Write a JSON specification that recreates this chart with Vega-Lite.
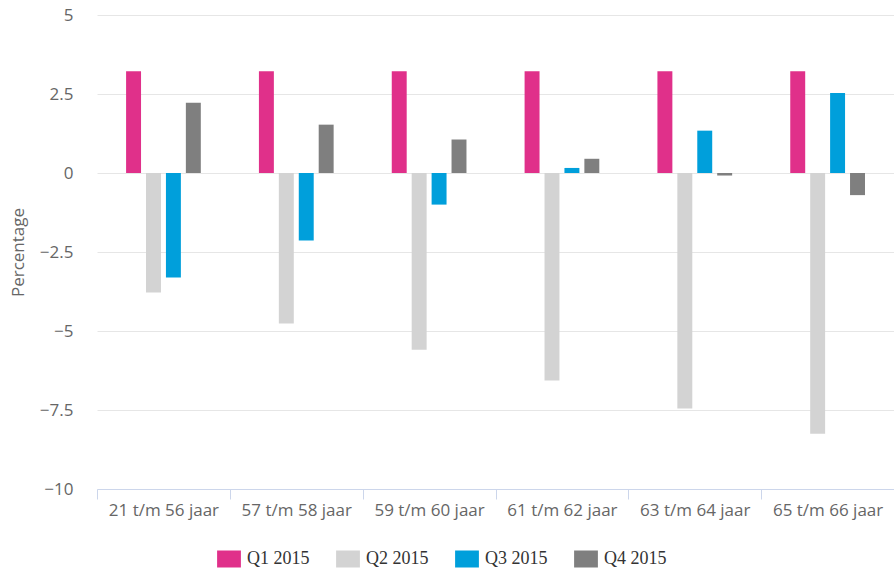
{
  "$schema": "https://vega.github.io/schema/vega-lite/v6.json",
  "width": 797,
  "height": 474,
  "autosize": {"type": "none"},
  "padding": {"left": 97, "top": 15, "right": 0, "bottom": 83},
  "background": "white",
  "config": {"view": {"stroke": null}},
  "data": {
    "values": [
      {"groep": "21 t/m 56 jaar", "kwartaal": "Q1 2015", "pct": 3.22},
      {"groep": "21 t/m 56 jaar", "kwartaal": "Q2 2015", "pct": -3.78},
      {"groep": "21 t/m 56 jaar", "kwartaal": "Q3 2015", "pct": -3.31},
      {"groep": "21 t/m 56 jaar", "kwartaal": "Q4 2015", "pct": 2.22},
      {"groep": "57 t/m 58 jaar", "kwartaal": "Q1 2015", "pct": 3.22},
      {"groep": "57 t/m 58 jaar", "kwartaal": "Q2 2015", "pct": -4.76},
      {"groep": "57 t/m 58 jaar", "kwartaal": "Q3 2015", "pct": -2.14},
      {"groep": "57 t/m 58 jaar", "kwartaal": "Q4 2015", "pct": 1.53},
      {"groep": "59 t/m 60 jaar", "kwartaal": "Q1 2015", "pct": 3.22},
      {"groep": "59 t/m 60 jaar", "kwartaal": "Q2 2015", "pct": -5.59},
      {"groep": "59 t/m 60 jaar", "kwartaal": "Q3 2015", "pct": -1.0},
      {"groep": "59 t/m 60 jaar", "kwartaal": "Q4 2015", "pct": 1.06},
      {"groep": "61 t/m 62 jaar", "kwartaal": "Q1 2015", "pct": 3.22},
      {"groep": "61 t/m 62 jaar", "kwartaal": "Q2 2015", "pct": -6.57},
      {"groep": "61 t/m 62 jaar", "kwartaal": "Q3 2015", "pct": 0.16},
      {"groep": "61 t/m 62 jaar", "kwartaal": "Q4 2015", "pct": 0.45},
      {"groep": "63 t/m 64 jaar", "kwartaal": "Q1 2015", "pct": 3.22},
      {"groep": "63 t/m 64 jaar", "kwartaal": "Q2 2015", "pct": -7.45},
      {"groep": "63 t/m 64 jaar", "kwartaal": "Q3 2015", "pct": 1.34},
      {"groep": "63 t/m 64 jaar", "kwartaal": "Q4 2015", "pct": -0.08},
      {"groep": "65 t/m 66 jaar", "kwartaal": "Q1 2015", "pct": 3.22},
      {"groep": "65 t/m 66 jaar", "kwartaal": "Q2 2015", "pct": -8.25},
      {"groep": "65 t/m 66 jaar", "kwartaal": "Q3 2015", "pct": 2.53},
      {"groep": "65 t/m 66 jaar", "kwartaal": "Q4 2015", "pct": -0.7}
    ]
  },
  "mark": {"type": "bar"},
  "encoding": {
    "x": {
      "field": "groep",
      "type": "nominal",
      "sort": null,
      "scale": {"paddingInner": 0, "paddingOuter": 0},
      "axis": {
        "title": null,
        "labelAngle": 0,
        "labelFont": "Open Sans",
        "labelFontSize": 17,
        "labelColor": "#666666",
        "labelPadding": 3,
        "domainColor": "#ccd6eb",
        "tickColor": "#ccd6eb",
        "tickSize": 10,
        "tickBand": "extent",
        "grid": false
      }
    },
    "xOffset": {
      "field": "kwartaal",
      "type": "nominal",
      "sort": ["Q1 2015", "Q2 2015", "Q3 2015", "Q4 2015"],
      "scale": {"range": [26.6, 106.3], "paddingInner": 0.25, "paddingOuter": 0.125}
    },
    "y": {
      "field": "pct",
      "type": "quantitative",
      "scale": {"domain": [-10, 5], "nice": false, "zero": false},
      "axis": {
        "title": "Percentage",
        "titleFont": "Open Sans",
        "titleFontSize": 17,
        "titleFontWeight": "normal",
        "titleColor": "#666666",
        "titleX": -70,
        "values": [-10, -7.5, -5, -2.5, 0, 2.5, 5],
        "format": ".1~f",
        "labelFont": "Open Sans",
        "labelFontSize": 17,
        "labelColor": "#666666",
        "labelPadding": 24,
        "ticks": false,
        "domain": false,
        "grid": true,
        "gridColor": "#e6e6e6"
      }
    },
    "color": {
      "field": "kwartaal",
      "type": "nominal",
      "sort": ["Q1 2015", "Q2 2015", "Q3 2015", "Q4 2015"],
      "scale": {
        "domain": ["Q1 2015", "Q2 2015", "Q3 2015", "Q4 2015"],
        "range": ["#e0308a", "#d3d3d3", "#009fdb", "#7f7f7f"]
      },
      "legend": {
        "title": null,
        "orient": "none",
        "direction": "horizontal",
        "legendX": 123,
        "legendY": 535,
        "symbolType": "M-1.4,-1L1.4,-1L1.4,1L-1.4,1Z",
        "symbolSize": 289,
        "symbolStrokeWidth": 0,
        "symbolOpacity": 1,
        "labelFont": "Liberation Serif",
        "labelFontSize": 18,
        "labelColor": "#333333",
        "labelOffset": 9,
        "columnPadding": 26
      }
    }
  }
}
